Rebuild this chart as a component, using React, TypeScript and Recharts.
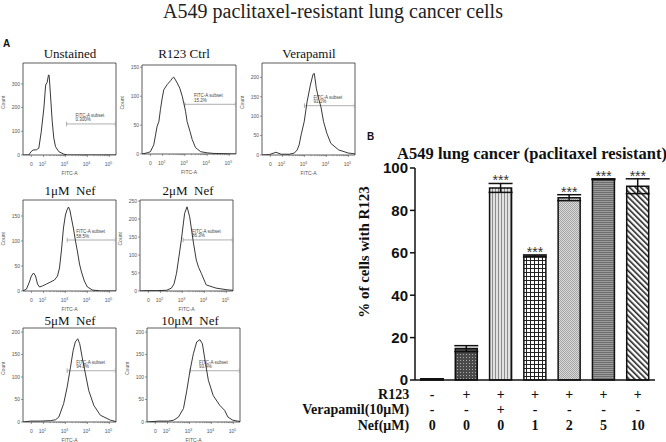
import React from 'react'
import {
  LineChart,
  Line,
  XAxis,
  YAxis,
  ReferenceArea,
  ReferenceLine,
  ComposedChart,
  Bar,
  Cell,
  ErrorBar,
  LabelList,
} from 'recharts'

const SERIF = '"Liberation Serif", "Times New Roman", serif'
const SANS = '"Liberation Sans", Arial, sans-serif'

// flow histograms: [FITC position in decades, count]
const unstainedCurve = [
  [1.07, 0], [1.33, 0], [1.44, 14], [1.53, 21], [1.68, 22], [1.79, 29], [1.9, 98],
  [2.02, 198], [2.1, 295], [2.17, 307], [2.23, 338], [2.26, 335], [2.32, 253],
  [2.4, 140], [2.47, 72], [2.55, 35], [2.7, 14], [2.92, 4], [3.1, 0], [5.3, 0],
]
const r123CtrlCurve = [
  [1.07, 0], [1.3, 2], [1.45, 4], [1.6, 16], [1.68, 33], [1.75, 48], [1.83, 56],
  [1.9, 77], [1.98, 97], [2.05, 111], [2.2, 120], [2.36, 127], [2.43, 131], [2.5, 133],
  [2.58, 128], [2.65, 123], [2.77, 114], [2.88, 100], [2.95, 88], [3.03, 74], [3.1, 56],
  [3.23, 39], [3.33, 25], [3.48, 11], [3.71, 4], [4.0, 2], [4.3, 1], [5.3, 0],
]
const verapamilCurve = [
  [1.07, 0], [1.4, 1], [1.7, 7], [1.95, 2], [2.31, 2], [2.54, 5], [2.67, 13], [2.76, 26],
  [2.85, 52], [2.99, 86], [3.12, 137], [3.27, 180], [3.39, 208], [3.45, 210], [3.54, 172],
  [3.64, 146], [3.75, 124], [3.87, 86], [4.02, 56], [4.2, 30], [4.56, 13], [5.0, 5], [5.3, 3],
]
const nef1Curve = [
  [1.07, 0], [1.23, 4], [1.36, 18], [1.45, 30], [1.55, 36], [1.64, 30], [1.73, 14],
  [1.82, 8], [1.95, 10], [2.14, 14], [2.32, 18], [2.5, 22], [2.64, 30], [2.73, 46],
  [2.82, 82], [2.91, 126], [3.0, 152], [3.07, 162], [3.14, 168], [3.2, 162], [3.27, 146],
  [3.36, 126], [3.45, 102], [3.55, 78], [3.64, 54], [3.73, 38], [3.86, 20], [4.0, 8],
  [4.23, 2], [4.6, 0], [5.3, 0],
]
const nef2Curve = [
  [1.07, 0], [1.38, 1], [1.83, 1], [2.28, 2], [2.5, 8], [2.62, 20], [2.73, 49], [2.84, 95],
  [2.95, 142], [3.1, 216], [3.21, 234], [3.33, 206], [3.48, 142], [3.63, 86], [3.74, 65],
  [3.86, 49], [4.08, 17], [4.53, 8], [5.07, 3], [5.3, 2],
]
const nef5Curve = [
  [1.07, 0], [1.41, 2], [1.86, 2], [2.32, 3], [2.55, 5], [2.7, 11], [2.92, 41], [3.08, 78],
  [3.23, 122], [3.35, 159], [3.45, 178], [3.56, 185], [3.65, 174], [3.76, 144], [3.91, 107],
  [4.06, 70], [4.29, 37], [4.59, 15], [5.05, 4], [5.3, 1],
]
const nef10Curve = [
  [1.07, 0], [1.6, 2], [2.05, 2], [2.28, 4], [2.5, 11], [2.73, 30], [2.88, 70], [3.03, 115],
  [3.18, 152], [3.33, 178], [3.48, 183], [3.59, 174], [3.71, 137], [3.86, 93], [4.08, 59],
  [4.38, 37], [4.6, 26], [4.75, 11], [4.97, 4], [5.2, 2], [5.3, 1],
]
const gatePct = ['0.300%', '15.2%', '91.1%', '58.5%', '86.3%', '94.8%', '93.4%']

// bar chart (panel B)
const conditions = ['Unstained', 'R123 Ctrl', 'Verapamil', 'Nef 1', 'Nef 2', 'Nef 5', 'Nef 10']
const uptake = [0.4, 14.8, 90.6, 58.5, 86.0, 94.7, 91.4]
const uptakeErr = [0.2, 1.4, 2.1, 0.5, 1.4, 0.2, 3.5]
const significance = ['', '', '***', '***', '***', '***', '***']
const r123Row = ['-', '+', '+', '+', '+', '+', '+']
const verapamilRow = ['-', '-', '+', '-', '-', '-', '-']
const nefRow = ['0', '0', '0', '1', '2', '5', '10']
const barTicks = [0, 20, 40, 60, 80, 100]

const barFills = ['#ffffff', 'url(#pDots)', 'url(#pVert)', 'url(#pGrid)', 'url(#pStip)', 'url(#pHoriz)', 'url(#pDiag)']

const xDomain: [number, number] = [1.07, 5.3]
const majorTicks = [1.45, 2, 3, 4, 5]
const majorLabels = ['0', '2', '3', '4', '5']
const minorTicks: number[] = []
for (let d = 2; d <= 4; d++) for (let k = 2; k <= 9; k++) minorTicks.push(d + Math.log10(k))
const allTicks = [...majorTicks, ...minorTicks]

const panels = [
  { title: 'Unstained', tx: 70, ty: 58, box: [23, 63, 116, 155], yMax: 388, yTicks: [0, 100, 200, 300], curve: unstainedCurve, gate: [3.05, 131] },
  { title: 'R123 Ctrl', tx: 184, ty: 58, box: [142, 65, 236, 154], yMax: 154, yTicks: [0, 50, 100, 150], curve: r123CtrlCurve, gate: [3.0, 86] },
  { title: 'Verapamil', tx: 309, ty: 58, box: [262, 63, 355, 155], yMax: 237, yTicks: [0, 50, 100, 150, 200], curve: verapamilCurve, gate: [3.0, 127] },
  { title: '1μM  Nef', tx: 70, ty: 195, box: [23, 200, 116, 291], yMax: 182, yTicks: [0, 50, 100, 150], curve: nef1Curve, gate: [3.08, 102] },
  { title: '2μM  Nef', tx: 188, ty: 195, box: [140, 200, 233, 291], yMax: 253, yTicks: [0, 50, 100, 150, 200, 250], curve: nef2Curve, gate: [3.03, 142] },
  { title: '5μM  Nef', tx: 70, ty: 325, box: [23, 328, 116, 422], yMax: 209, yTicks: [0, 50, 100, 150, 200], curve: nef5Curve, gate: [3.08, 114] },
  { title: '10μM  Nef', tx: 190, ty: 325, box: [147, 328, 240, 422], yMax: 209, yTicks: [0, 50, 100, 150, 200], curve: nef10Curve, gate: [3.03, 114] },
]

function LogTick(props: any) {
  const { x, y, payload } = props
  const mi = majorTicks.indexOf(payload.value)
  if (mi < 0) return <line x1={x} x2={x} y1={y} y2={y + 1.2} stroke="#555" strokeWidth={0.5} />
  return (
    <g fill="#555" fontFamily={SANS}>
      <line x1={x} x2={x} y1={y} y2={y + 2} stroke="#555" strokeWidth={0.6} />
      {mi === 0 ? (
        <text x={x} y={y + 11} fontSize={5} textAnchor="middle">0</text>
      ) : (
        <text x={x - 1} y={y + 11} fontSize={5} textAnchor="middle">
          10<tspan dy={-2.5} fontSize={3.5}>{majorLabels[mi]}</tspan>
        </text>
      )}
    </g>
  )
}

function Histogram({ p, pct }: { p: any; pct: string }) {
  const [l, t, r, b] = p.box
  const ml = 24, mr = 3, mt = 3, mb = 22
  const data = p.curve.map(([u, c]: number[]) => ({ u, c }))
  const tickH = p.yMax * 0.025
  return (
    <div style={{ position: 'absolute', left: l - ml, top: t - mt }}>
      <LineChart
        width={r - l + ml + mr}
        height={b - t + mt + mb}
        data={data}
        margin={{ top: mt, right: mr, bottom: 0, left: 0 }}
      >
        <XAxis
          dataKey="u"
          type="number"
          domain={xDomain}
          ticks={allTicks}
          interval={0}
          tick={<LogTick />}
          tickSize={0}
          tickMargin={0}
          tickLine={false}
          axisLine={false}
          height={mb}
          allowDataOverflow
          label={{ value: 'FITC-A', position: 'insideBottom', offset: 2, fontSize: 5, fill: '#555', fontFamily: SANS }}
        />
        <YAxis
          type="number"
          domain={[0, p.yMax]}
          ticks={p.yTicks}
          interval={0}
          width={ml}
          tickSize={2}
          tickMargin={1}
          tickLine={{ stroke: '#555', strokeWidth: 0.6 }}
          axisLine={false}
          allowDataOverflow
          tick={{ fontSize: 5, fill: '#555', fontFamily: SANS }}
          label={{ value: 'Count', angle: -90, position: 'insideLeft', offset: 4, fontSize: 5, fill: '#555', fontFamily: SANS }}
        />
        <ReferenceArea x1={xDomain[0]} x2={xDomain[1]} y1={0} y2={p.yMax} fill="none" stroke="#333" strokeWidth={0.8} ifOverflow="visible" />
        <ReferenceLine
          segment={[{ x: p.gate[0], y: p.gate[1] }, { x: xDomain[1] - 0.03, y: p.gate[1] }]}
          stroke="#9a9a9a"
          strokeWidth={0.8}
          ifOverflow="visible"
          label={(lp: any) => {
            const vb = lp.viewBox || {}
            return (
              <g fontSize={4.5} fill="#444" fontFamily={SANS}>
                <text x={vb.x + 9} y={vb.y - 7}>FITC-A subset</text>
                <text x={vb.x + 9} y={vb.y - 2.5}>{pct}</text>
              </g>
            )
          }}
        />
        <ReferenceLine segment={[{ x: p.gate[0], y: p.gate[1] - tickH }, { x: p.gate[0], y: p.gate[1] + tickH }]} stroke="#9a9a9a" strokeWidth={0.8} ifOverflow="visible" />
        <ReferenceLine segment={[{ x: xDomain[1] - 0.03, y: p.gate[1] - tickH }, { x: xDomain[1] - 0.03, y: p.gate[1] + tickH }]} stroke="#9a9a9a" strokeWidth={0.8} ifOverflow="visible" />
        <Line dataKey="c" type="linear" stroke="#222" strokeWidth={0.9} dot={false} isAnimationActive={false} />
      </LineChart>
    </div>
  )
}

function CondTick(props: any) {
  const { x, y, payload } = props
  const i = payload.index
  const style = { fontFamily: SERIF, fontWeight: 700, fontSize: 14, fill: '#111' }
  return (
    <g {...style}>
      <text x={x} y={y + 19} textAnchor="middle">{r123Row[i]}</text>
      <text x={x} y={y + 34} textAnchor="middle">{verapamilRow[i]}</text>
      <text x={x} y={y + 50} textAnchor="middle">{nefRow[i]}</text>
      {i === 0 && (
        <>
          <text x={x - 23} y={y + 19} textAnchor="end">R123</text>
          <text x={x - 23} y={y + 34} textAnchor="end">Verapamil(10μM)</text>
          <text x={x - 23} y={y + 50} textAnchor="end">Nef(μM)</text>
        </>
      )}
    </g>
  )
}

function UptakeChart() {
  const data = conditions.map((c, i) => ({
    cond: c,
    v: uptake[i],
    e: uptakeErr[i],
    top: uptake[i] + uptakeErr[i],
    star: significance[i],
  }))
  return (
    <div style={{ position: 'absolute', left: 270, top: 140 }}>
      <ComposedChart width={396} height={302} data={data} margin={{ top: 28, right: 11, bottom: 0, left: 0 }}>
        <defs>
          <pattern id="pDots" width="3" height="3" patternUnits="userSpaceOnUse">
            <rect width="3" height="3" fill="#4a4a4a" />
            <rect x="1" y="1" width="1" height="1" fill="#a8a8a8" />
          </pattern>
          <pattern id="pVert" width="3" height="3" patternUnits="userSpaceOnUse">
            <rect width="3" height="3" fill="#e2e2e2" />
            <rect width="1" height="3" fill="#8c8c8c" />
          </pattern>
          <pattern id="pGrid" width="4" height="4" patternUnits="userSpaceOnUse">
            <rect width="4" height="4" fill="#ffffff" />
            <path d="M0 0.5H4M0.5 0V4" stroke="#222" strokeWidth="1" />
          </pattern>
          <pattern id="pStip" width="2" height="2" patternUnits="userSpaceOnUse">
            <rect width="2" height="2" fill="#dadada" />
            <rect width="1" height="1" fill="#a4a4a4" />
            <rect x="1" y="1" width="1" height="1" fill="#a4a4a4" />
          </pattern>
          <pattern id="pHoriz" width="2" height="2" patternUnits="userSpaceOnUse">
            <rect width="2" height="2" fill="#9a9a9a" />
            <rect width="2" height="1" fill="#6e6e6e" />
          </pattern>
          <pattern id="pDiag" width="4" height="4" patternUnits="userSpaceOnUse" patternTransform="rotate(-45)">
            <rect width="4" height="4" fill="#ffffff" />
            <rect width="1.6" height="4" fill="#222" />
          </pattern>
        </defs>
        <XAxis
          dataKey="cond"
          height={62}
          interval={0}
          tickSize={0}
          tickMargin={0}
          tickLine={false}
          axisLine={{ stroke: '#111', strokeWidth: 1.5 }}
          tick={<CondTick />}
        />
        <YAxis
          type="number"
          domain={[0, 100]}
          ticks={barTicks}
          interval={0}
          width={145}
          tickSize={5}
          tickMargin={2}
          tickLine={{ stroke: '#111', strokeWidth: 1.5 }}
          axisLine={{ stroke: '#111', strokeWidth: 1.5 }}
          tick={{ fontSize: 15, fontWeight: 700, fill: '#111', fontFamily: SANS }}
        />
        <Bar dataKey="v" barSize={22} stroke="#111" strokeWidth={1.5} isAnimationActive={false}>
          {data.map((d, i) => (
            <Cell key={d.cond} fill={barFills[i]} />
          ))}
          <ErrorBar dataKey="e" width={12} stroke="#111" strokeWidth={1.5} direction="y" />
        </Bar>
        <Line dataKey="top" stroke="none" dot={false} activeDot={false} isAnimationActive={false}>
          <LabelList
            dataKey="star"
            content={(lp: any) => (
              <text x={lp.x} y={lp.y + 2} textAnchor="middle" fontSize={14} fill="#333" fontFamily={SANS}>
                {lp.value}
              </text>
            )}
          />
        </Line>
      </ComposedChart>
    </div>
  )
}

export default function App() {
  return (
    <div style={{ position: 'absolute', left: 0, top: 0, width: 666, height: 442, background: '#fff', overflow: 'hidden' }}>
      {panels.map((p, i) => (
        <Histogram key={p.title} p={p} pct={gatePct[i]} />
      ))}
      <UptakeChart />
      <svg width={666} height={442} style={{ position: 'absolute', left: 0, top: 0, pointerEvents: 'none' }}>
        <text x={333} y={18} textAnchor="middle" fontSize={20} fontFamily={SERIF} fill="#222">
          A549 paclitaxel-resistant lung cancer cells
        </text>
        <text x={3} y={47} fontSize={10} fontWeight={700} fontFamily={SANS} fill="#111">A</text>
        <text x={367} y={140} fontSize={10} fontWeight={700} fontFamily={SANS} fill="#111">B</text>
        {panels.map((p) => (
          <text key={p.title} x={p.tx} y={p.ty} textAnchor="middle" fontSize={13} fontFamily={SERIF} fill="#111" style={{ whiteSpace: 'pre' }}>
            {p.title}
          </text>
        ))}
        <text x={532} y={159} textAnchor="middle" fontSize={16.5} fontWeight={700} fontFamily={SERIF} fill="#111">
          A549 lung cancer (paclitaxel resistant)
        </text>
        <text
          x={369}
          y={252}
          transform="rotate(-90 369 252)"
          textAnchor="middle"
          fontSize={15}
          fontWeight={700}
          fontFamily={SERIF}
          fill="#111"
        >
          % of cells with R123
        </text>
      </svg>
    </div>
  )
}
